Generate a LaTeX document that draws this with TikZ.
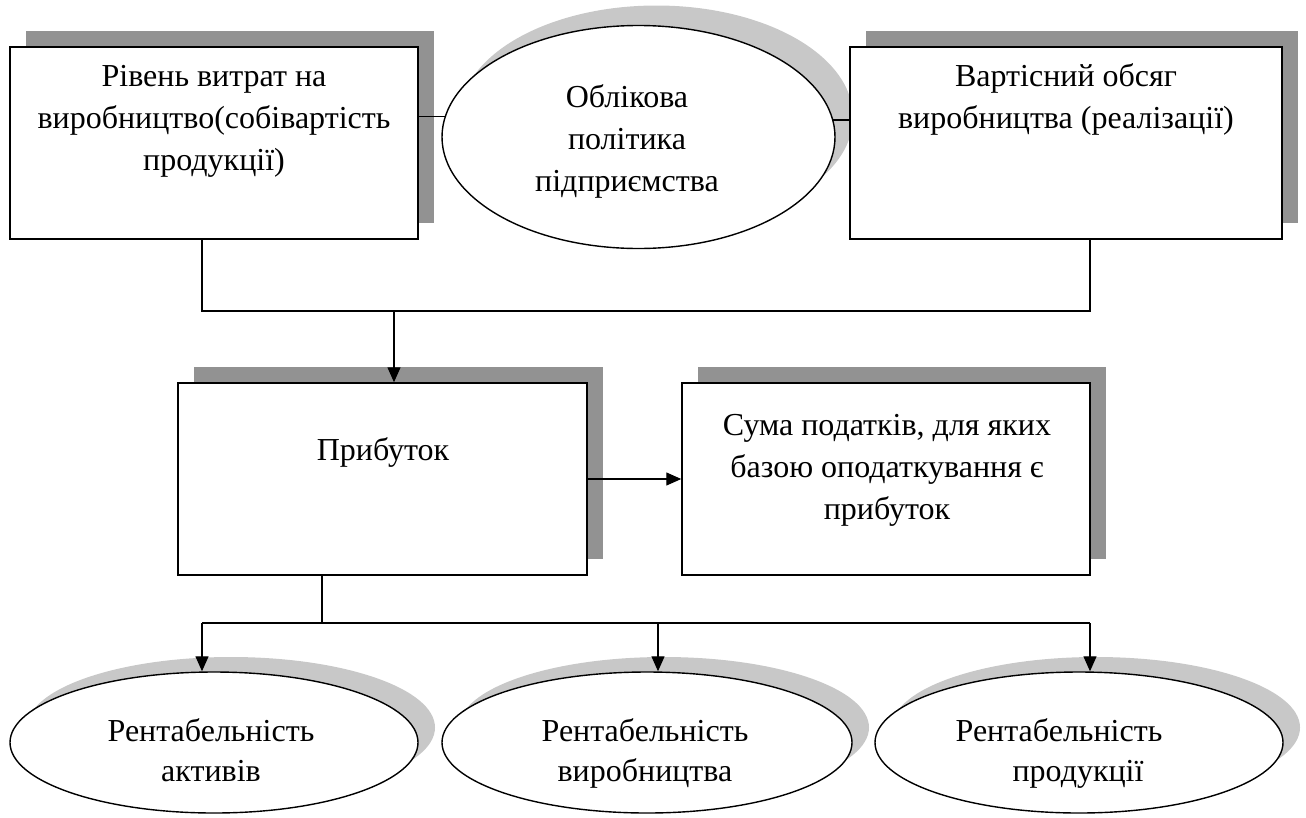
\documentclass[tikz,border=0pt]{standalone}
\usepackage{fontspec}
\setmainfont{Liberation Serif}
\usetikzlibrary{shapes.geometric,shadows,arrows.meta,calc}
\definecolor{shdark}{HTML}{929292}
\definecolor{shlight}{HTML}{C8C8C8}
\begin{document}
\begin{tikzpicture}[x=1pt,y=-1pt,
  boxnode/.style={draw, line width=1.5pt, fill=white, rectangle, inner sep=0pt, minimum height=192pt,
    drop shadow={shadow xshift=16pt, shadow yshift=16pt, fill=shdark, opacity=1}},
  ovalbase/.style={draw, line width=1.4pt, fill=white, ellipse, inner sep=0pt},
  ovalnode/.style={ovalbase, drop shadow={shadow xshift=17pt, shadow yshift=15pt, fill=shlight, opacity=1}},
  topoval/.style={ovalbase, drop shadow={shadow xshift=18pt, shadow yshift=20pt, fill=shlight, opacity=1}},
  txt/.style={inner sep=0pt, anchor=base, font=\fontsize{32}{42}\selectfont},
  txtb/.style={inner sep=0pt, anchor=base, font=\fontsize{32}{40}\selectfont},
  conn/.style={line width=1.3pt},
  arr/.style={conn, -{Triangle[length=15pt,width=13pt]}}]
\useasboundingbox (0,0) rectangle (1306,817);
% shapes
\node[boxnode, minimum width=408pt] (b1) at (214,143) {};
\node[topoval, minimum width=393pt, minimum height=223pt] (e0) at (638.5,137) {};
\node[boxnode, minimum width=432pt] (b3) at (1066,143) {};
\node[boxnode, minimum width=409pt] (b2) at (382.5,479) {};
\node[boxnode, minimum width=408pt] (b4) at (886,479) {};
\node[ovalnode, minimum width=408pt, minimum height=141pt] (e1) at (214,742.5) {};
\node[ovalnode, minimum width=410pt, minimum height=141pt] (e2) at (647,742.5) {};
\node[ovalnode, minimum width=408pt, minimum height=141pt] (e3) at (1079,742.5) {};
% texts
\node[txt] (t1) at (214,86) {\begin{tabular}[t]{@{}c@{}}Рівень витрат на\\виробництво(собівартість\\продукції)\end{tabular}};
\node[txt] (t0) at (627,107) {\begin{tabular}[t]{@{}c@{}}Облікова\\політика\\підприємства\end{tabular}};
\node[txt] (t3) at (1066,86) {\begin{tabular}[t]{@{}c@{}}Вартісний обсяг\\виробництва (реалізації)\end{tabular}};
\node[txt] (t2) at (383,460) {Прибуток};
\node[txt] (t4) at (887,435) {\begin{tabular}[t]{@{}c@{}}Сума податків, для яких\\базою оподаткування є\\прибуток\end{tabular}};
\node[txtb] (t5) at (211,741) {\begin{tabular}[t]{@{}c@{}}Рентабельність\\активів\end{tabular}};
\node[txtb] (t6) at (645,741) {\begin{tabular}[t]{@{}c@{}}Рентабельність\\виробництва\end{tabular}};
\node[txtb] (t7) at (1059,741) {\begin{tabular}[t]{@{}c@{}}Рентабельність\\\hspace*{38pt}продукції\end{tabular}};
% connectors
\draw[conn] (b1.east |- e0.174.4) -- (e0.174.4);
\draw[conn] (e0.5.6) -- (b3.west |- e0.5.6);
\coordinate (bus1) at (202,311);
\coordinate (bus2) at (1090,311);
\coordinate (j0) at (394,311);
\draw[conn] (b1.south -| bus1) -- (bus1) -- (bus2) -- (b3.south -| bus2);
\draw[arr] (j0) -- (j0 |- b2.north);
\draw[arr] (b2.east) -- (b4.west);
\coordinate (k0) at (322,623);
\coordinate (k1) at (202,623);
\coordinate (k2) at (658,623);
\coordinate (k3) at (1090,623);
\draw[conn] (b2.south -| k0) -- (k0);
\draw[conn] (k1) -- (k3);
\draw[arr] (k1) -- (k1 |- e1.north);
\draw[arr] (k2) -- (k2 |- e2.north);
\draw[arr] (k3) -- (k3 |- e3.north);
\end{tikzpicture}
\end{document}
